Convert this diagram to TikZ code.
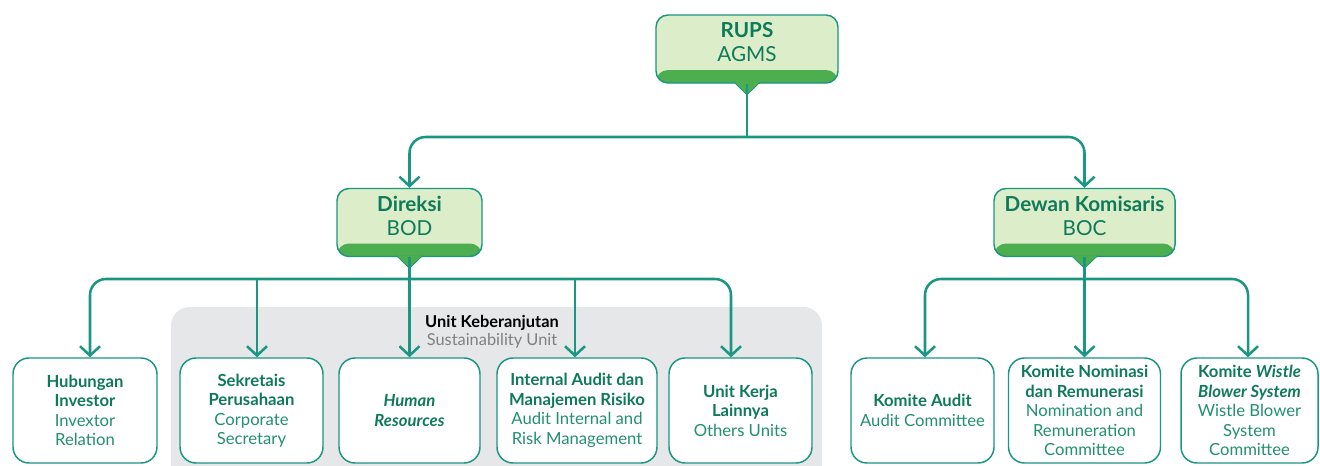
\documentclass[tikz,border=0pt]{standalone}
\usepackage{fontspec}
\setmainfont{Lato}
\usetikzlibrary{arrows.meta,calc}

\definecolor{garis}{HTML}{1A9682}
\definecolor{hijaumuda}{HTML}{DCEDC9}
\definecolor{pita}{HTML}{4DAE50}
\definecolor{teks}{HTML}{0F7A5A}
\definecolor{teksmuda}{HTML}{23906F}
\definecolor{abu}{HTML}{E6E7E8}

\newcommand{\nm}[1]{\textbf{#1}}
\newcommand{\engl}[1]{{\color{teksmuda}#1}}

\tikzset{
  kepala/.style={draw=garis, line width=1.1pt, fill=hijaumuda, rounded corners=9pt,
    minimum height=51pt,
    path picture={\fill[pita] (path picture bounding box.south west)
      rectangle ($(path picture bounding box.south east)+(0,-13)$);}},
  judul/.style={align=center, text=teks, font=\fontsize{15.5}{18}\selectfont, yshift=4.9pt},
  kotak/.style={draw=garis, line width=1.1pt, fill=white, rounded corners=12pt,
    minimum height=78.75pt, align=center, text=teks, inner sep=2pt,
    font=\fontsize{12.5}{14.6}\selectfont},
  conn/.style={draw=garis, line width=1.9pt, rounded corners=12pt},
  panah/.style={-{Straight Barb[length=7pt, width=15pt, line width=1.9pt]}},
}

\begin{document}
\begin{tikzpicture}[x=0.75pt, y=-0.75pt]
  \useasboundingbox (0,0) rectangle (1320,465);

  % Area unit keberanjutan
  \fill[abu, rounded corners=14] (171,470) -- (171,307) -- (822,307) -- (822,470);
  \node[align=center, font=\fontsize{12.3}{13.8}\selectfont] (unitket) at (492,332)
    {\textbf{Unit Keberanjutan}\\{\color{gray}Sustainability Unit}};

  % Kotak atas
  \node[kepala, minimum width=136.5pt,
    label={[judul]center:{\textbf{RUPS}\\AGMS}}] (rups) at (747,49) {};
  \node[kepala, minimum width=108.75pt,
    label={[judul]center:{\textbf{Direksi}\\BOD}}] (direksi) at (409.5,222.5) {};
  \node[kepala, minimum width=135.75pt,
    label={[judul]center:{\textbf{Dewan Komisaris}\\BOC}}] (dekom) at (1084.5,222.5) {};

  % Penunjuk
  \foreach \n in {rups,direksi,dekom}
    \filldraw[pita, draw=garis, line width=0.6pt]
      ($(\n.south)+(-13,-1.5)$) -- ($(\n.south)+(0,11)$) -- ($(\n.south)+(13,-1.5)$);

  % Kotak bawah
  \node[kotak, minimum width=108pt] (hub) at (85,410.5)
    {\nm{Hubungan}\\\nm{Investor}\\\engl{Invextor}\\\engl{Relation}};
  \node[kotak, minimum width=107.25pt] (sek) at (251.5,410.5)
    {\nm{Sekretais}\\\nm{Perusahaan}\\\engl{Corporate}\\\engl{Secretary}};
  \node[kotak, minimum width=105.75pt] (hr) at (409.5,410.5)
    {\nm{\textit{Human}}\\\nm{\textit{Resources}}};
  \node[kotak, minimum width=120pt] (ia) at (577,410.5)
    {\nm{Internal Audit dan}\\\nm{Manajemen Risiko}\\\engl{Audit Internal and}\\\engl{Risk Management}};
  \node[kotak, minimum width=107.25pt] (uk) at (740.5,410.5)
    {\nm{Unit Kerja}\\\nm{Lainnya}\\\engl{Others Units}};
  \node[kotak, minimum width=107.25pt] (ka) at (922.5,410.5)
    {\nm{Komite Audit}\\\engl{Audit Committee}};
  \node[kotak, minimum width=114pt] (kn) at (1084.5,410.5)
    {\nm{Komite Nominasi}\\\nm{dan Remunerasi}\\\engl{Nomination and}\\\engl{Remuneration}\\\engl{Committee}};
  \node[kotak, minimum width=102.75pt] (kw) at (1249.5,410.5)
    {\nm{Komite \textit{Wistle}}\\\nm{\textit{Blower System}}\\\engl{Wistle Blower}\\\engl{System}\\\engl{Committee}};

  % Titik masuk panah
  \coordinate (bus1) at (747,137);
  \coordinate (bus2) at (409.5,279);
  \coordinate (bus3) at (1084.5,279);
  \coordinate (hubIn) at ($(hub.north)+(5,0)$);
  \coordinate (sekIn) at ($(sek.north)+(5.5,0)$);
  \coordinate (iaIn) at ($(ia.north)+(-2,0)$);
  \coordinate (ukIn) at ($(uk.north)+(-9.5,0)$);
  \coordinate (kaIn) at ($(ka.north)+(2.5,0)$);
  \coordinate (kwIn) at ($(kw.north)+(-1.5,0)$);

  % Garis penghubung
  \draw[conn] (rups.south) -- (bus1);
  \draw[conn, panah] (bus1) -| (direksi.north);
  \draw[conn, panah] (bus1) -| (dekom.north);

  \draw[conn, panah] (direksi.south) -- (hr.north);
  \draw[conn, panah] (bus2) -| (hubIn);
  \draw[conn, panah] (bus2) -| (ukIn);
  \draw[conn, panah] (sekIn |- bus2) -- (sekIn);
  \draw[conn, panah] (iaIn |- bus2) -- (iaIn);

  \draw[conn, panah] (dekom.south) -- (kn.north);
  \draw[conn, panah] (bus3) -| (kaIn);
  \draw[conn, panah] (bus3) -| (kwIn);
\end{tikzpicture}
\end{document}
